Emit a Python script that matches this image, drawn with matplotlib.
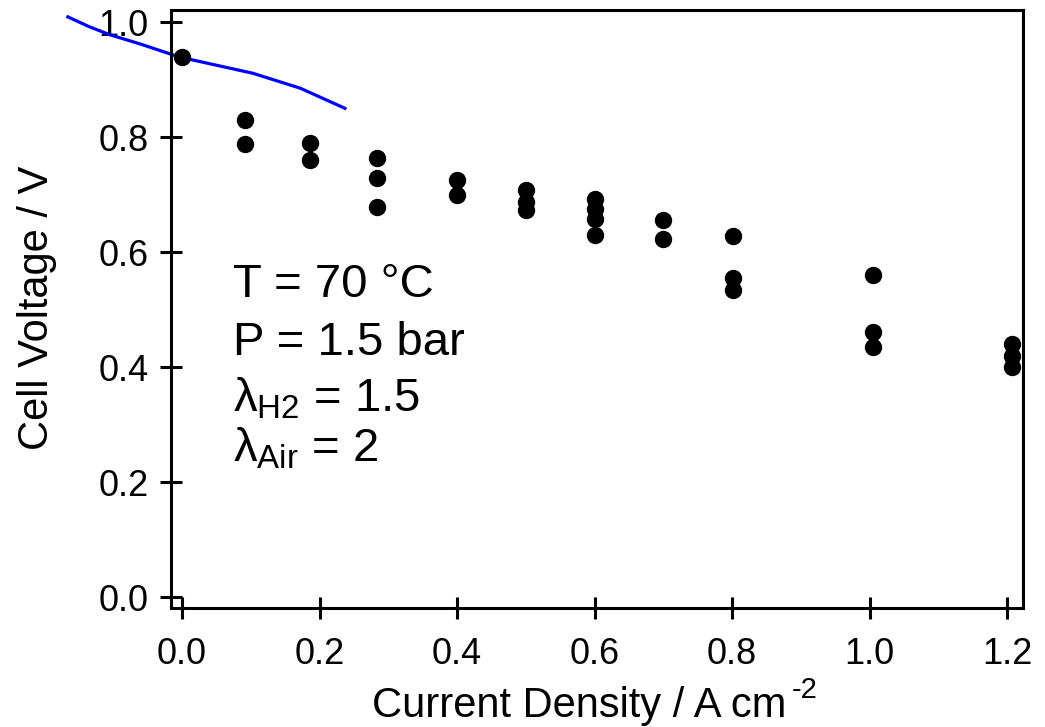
import matplotlib
matplotlib.use('Agg')
import matplotlib.pyplot as plt

plt.rcParams['font.family'] = ['Liberation Sans', 'DejaVu Sans']
plt.rcParams['mathtext.fontset'] = 'custom'
plt.rcParams['mathtext.rm'] = 'Liberation Sans'
plt.rcParams['mathtext.it'] = 'Liberation Sans'

# measured polarisation data (current density A/cm2, cell voltage V)
j_meas = [0.0,
          0.092, 0.092,
          0.186, 0.186,
          0.284, 0.284, 0.284,
          0.4, 0.4,
          0.5, 0.5, 0.5,
          0.6, 0.6, 0.6, 0.6,
          0.7, 0.7,
          0.801, 0.801, 0.801,
          1.005, 1.005, 1.005,
          1.207, 1.207, 1.207]
v_meas = [0.939,
          0.830, 0.788,
          0.790, 0.760,
          0.763, 0.729, 0.678,
          0.725, 0.699,
          0.708, 0.687, 0.673,
          0.692, 0.675, 0.657, 0.630,
          0.656, 0.623,
          0.628, 0.555, 0.534,
          0.560, 0.461, 0.435,
          0.440, 0.419, 0.400]

# model curve (blue)
j_model = [-0.166, -0.135, -0.105, -0.061, -0.003, 0.103, 0.172, 0.237]
v_model = [1.009, 0.992, 0.978, 0.962, 0.939, 0.911, 0.885, 0.850]

x_ticks = [0.0, 0.2, 0.4, 0.6, 0.8, 1.0, 1.2]
y_ticks = [0.0, 0.2, 0.4, 0.6, 0.8, 1.0]

W, H = 1045, 727
fig = plt.figure(figsize=(W / 100, H / 100), dpi=100)
ax = fig.add_axes([171 / W, 1 - 608 / H, (1023 - 171) / W, (608 - 10) / H])

ax.plot(j_meas, v_meas, 'o', color='black', ms=11.5, zorder=3)
ax.plot(j_model, v_model, color='#0000ff', lw=2.3, clip_on=False, zorder=2)

ax.set_xlim(-0.016, 1.223)
ax.set_ylim(-0.019, 1.021)
ax.set_xticks(x_ticks)
ax.set_yticks(y_ticks)
ax.set_xticklabels([f'{t:.1f}' for t in x_ticks])
ax.set_yticklabels([f'{t:.1f}' for t in y_ticks])

for sp in ax.spines.values():
    sp.set_linewidth(2.2)
ax.tick_params(direction='inout', length=16, width=2.2, labelsize=26)
ax.tick_params(axis='x', pad=13)
ax.tick_params(axis='y', pad=8)

# axis titles placed like the original (Igor-style)
fig.text(372 / W, 1 - 717 / H, 'Current Density / A cm', fontsize=30,
         ha='left', va='baseline')
fig.text(792 / W, 1 - 698 / H, '-2', fontsize=21, ha='left', va='baseline')
fig.text(37 / W, 1 - 308 / H, 'Cell Voltage / V', fontsize=30,
         rotation=90, ha='center', va='center')

txt_kw = dict(transform=ax.transData, fontsize=34, ha='left', va='baseline')
ax.text(0.074, 0.522, 'T = 70 °C', **txt_kw)
ax.text(0.074, 0.421, 'P = 1.5 bar', **txt_kw)
ax.text(0.074, 0.322, r'$\lambda_{\mathrm{H2}}$ = 1.5', **txt_kw)
ax.text(0.074, 0.235, r'$\lambda_{\mathrm{Air}}$ = 2', **txt_kw)

fig.savefig('out.png', dpi=100)
